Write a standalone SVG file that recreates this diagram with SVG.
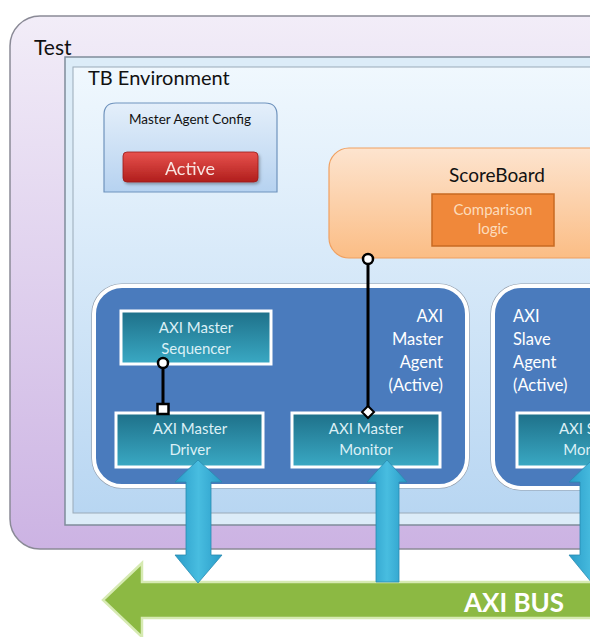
<svg xmlns="http://www.w3.org/2000/svg" width="590" height="637" viewBox="0 0 590 637">
<defs>
<linearGradient id="gTest" x1="0" y1="0" x2="0" y2="1"><stop offset="0" stop-color="#f2edf8"/><stop offset="1" stop-color="#ccb3e3"/></linearGradient>
<linearGradient id="gEnv" x1="0" y1="0" x2="0" y2="1"><stop offset="0" stop-color="#f0f8fe"/><stop offset="1" stop-color="#b8d6f2"/></linearGradient>
<linearGradient id="gCfg" x1="0" y1="0" x2="0" y2="1"><stop offset="0" stop-color="#e4effa"/><stop offset="1" stop-color="#b6d2f0"/></linearGradient>
<linearGradient id="gRed" x1="0" y1="0" x2="0" y2="1"><stop offset="0" stop-color="#e8524e"/><stop offset="1" stop-color="#b01e1c"/></linearGradient>
<linearGradient id="gSb" x1="0" y1="0" x2="0" y2="1"><stop offset="0" stop-color="#fde4cf"/><stop offset="1" stop-color="#fbbd85"/></linearGradient>
<linearGradient id="gTeal" x1="0" y1="0" x2="0" y2="1"><stop offset="0" stop-color="#1e7089"/><stop offset="1" stop-color="#3aa9c4"/></linearGradient>
<linearGradient id="gCyan" x1="0" y1="0" x2="1" y2="0"><stop offset="0" stop-color="#2a9cc8"/><stop offset="0.5" stop-color="#48bde0"/><stop offset="1" stop-color="#2a9cc8"/></linearGradient>
<filter id="sh" x="-10%" y="-10%" width="130%" height="130%"><feDropShadow dx="1.5" dy="2" stdDeviation="1.5" flood-color="#000" flood-opacity="0.3"/></filter>
</defs>
<style>
text{font-family:Lato,"Open Sans","Liberation Sans",sans-serif}
.t{fill:#111}
.w{fill:#ffffff}
.sub{fill:url(#gTeal);stroke:#ffffff;stroke-width:3}
.subt{fill:#dcf0f6;font-size:15px;text-anchor:middle}
.agent{fill:#4a7bbd;stroke:#ffffff;stroke-width:4}
.agento{fill:none;stroke:#8f9aa8;stroke-width:1.2}
.agt{fill:#ffffff;font-size:16.5px}
.conn{stroke:#000;stroke-width:3;fill:none}
.arrow{fill:url(#gCyan);stroke:#2a8ab0;stroke-width:0.8}
</style>

<g id="test">
<rect x="10" y="16" width="640" height="533" rx="30" fill="url(#gTest)" stroke="#8a8a96" stroke-width="1.5"/>
<text x="34" y="55" class="t" font-size="21">Test</text>
</g>

<g id="tb-environment">
<rect x="65" y="57" width="600" height="468" fill="#dcecf8" stroke="#7f8c9a" stroke-width="1.5"/>
<rect x="73" y="67" width="600" height="446" fill="url(#gEnv)" stroke="#9aaab8" stroke-width="1"/>
<text x="88" y="85" class="t" font-size="20">TB Environment</text>
</g>

<g id="master-agent-config">
<path d="M104 192 V115 Q104 103 116 103 H265 Q277 103 277 115 V192 Z" fill="url(#gCfg)" stroke="#6f93bd" stroke-width="1.2"/>
<text x="190" y="124" class="t" font-size="13.5" text-anchor="middle" fill="#222">Master Agent Config</text>
<g id="active" filter="url(#sh)">
<rect x="123" y="152" width="135" height="30" rx="4" fill="url(#gRed)" stroke="#9a1a18" stroke-width="0.8"/>
<text x="190" y="175" font-size="18" text-anchor="middle" fill="#f8e4e0">Active</text>
</g>
</g>

<g id="scoreboard">
<rect x="329" y="148" width="320" height="110" rx="20" fill="url(#gSb)" stroke="#f0a060" stroke-width="1.2"/>
<text x="497" y="182" class="t" font-size="19" text-anchor="middle" fill="#222">ScoreBoard</text>
<g id="comparison-logic">
<rect x="432" y="194" width="122" height="52" fill="#f0883a" stroke="#c86a22" stroke-width="1.5"/>
<text x="493" y="215" font-size="15" text-anchor="middle" fill="#fcdcbc">Comparison</text>
<text x="493" y="234" font-size="15" text-anchor="middle" fill="#fcdcbc">logic</text>
</g>
</g>

<g id="axi-master-agent">
<rect x="92" y="284" width="377" height="204" rx="30" class="agento"/>
<rect x="94" y="286" width="373" height="200" rx="28" class="agent"/>
<text class="agt" text-anchor="end"><tspan x="443" y="322">AXI</tspan><tspan x="443" y="345">Master</tspan><tspan x="443" y="368">Agent</tspan><tspan x="443" y="391">(Active)</tspan></text>
</g>

<g id="axi-master-sequencer">
<rect x="121" y="311" width="150" height="53" class="sub"/>
<text class="subt"><tspan x="196" y="333">AXI Master</tspan><tspan x="196" y="354">Sequencer</tspan></text>
</g>

<g id="axi-master-driver">
<rect x="116" y="413" width="147" height="54" class="sub"/>
<text class="subt"><tspan x="190" y="434">AXI Master</tspan><tspan x="190" y="455">Driver</tspan></text>
</g>

<g id="axi-master-monitor">
<rect x="292" y="413" width="148" height="54" class="sub"/>
<text class="subt"><tspan x="366" y="434">AXI Master</tspan><tspan x="366" y="455">Monitor</tspan></text>
</g>

<g id="axi-slave-agent">
<rect x="491" y="284" width="200" height="206" rx="30" class="agento"/>
<rect x="493" y="286" width="196" height="202" rx="28" class="agent"/>
<text class="agt"><tspan x="513" y="322">AXI</tspan><tspan x="513" y="345">Slave</tspan><tspan x="513" y="368">Agent</tspan><tspan x="513" y="391">(Active)</tspan></text>
</g>

<g id="axi-slave-monitor">
<rect x="517" y="413" width="148" height="54" class="sub"/>
<text class="subt"><tspan x="590" y="434">AXI Slave</tspan><tspan x="590" y="455">Monitor</tspan></text>
</g>

<g id="axi-bus">
<path d="M142 563 L142 582 L600 582 L600 618 L142 618 L142 637 L103 600 Z" fill="#8cb943" stroke="#d6eab2" stroke-width="2.5"/>
<text x="514" y="612" font-size="26" font-weight="bold" text-anchor="middle" fill="#ffffff">AXI BUS</text>
</g>

<g id="connectors">
<line x1="163" y1="367" x2="163" y2="404" class="conn"/>
<circle cx="163" cy="363" r="5" fill="#fff" stroke="#000" stroke-width="2.5"/>
<rect x="157.5" y="404" width="11" height="10" fill="#fff" stroke="#000" stroke-width="2.5"/>
<line x1="368" y1="264" x2="368" y2="407" class="conn"/>
<circle cx="368" cy="259" r="5" fill="#fff" stroke="#000" stroke-width="2.5"/>
<path d="M368 406 L374 412 L368 418 L362 412 Z" fill="#fff" stroke="#000" stroke-width="2"/>
<path d="M198 460 L222 482 L211 482 L211 555 L222 555 L198 583 L175 555 L186 555 L186 482 L175 482 Z" class="arrow"/>
<path d="M387 460 L407 482 L399 482 L399 582 L376 582 L376 482 L367 482 Z" class="arrow"/>
<path d="M592 460 L616 482 L605 482 L605 555 L616 555 L592 583 L569 555 L580 555 L580 482 L569 482 Z" class="arrow"/>
</g>
</svg>
